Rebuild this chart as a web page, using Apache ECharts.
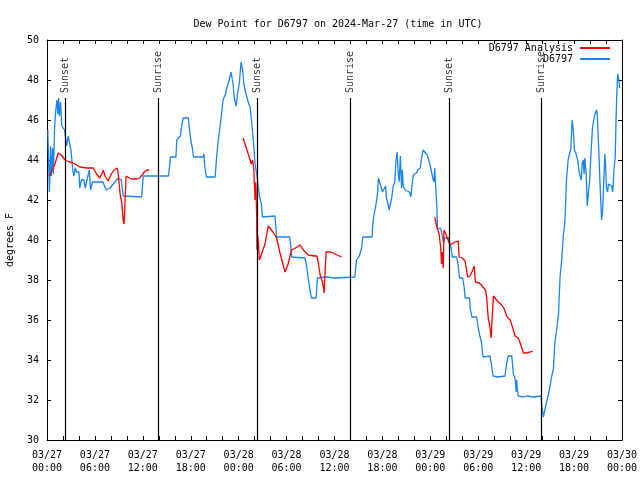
<!DOCTYPE html>
<html>
<head>
<meta charset="utf-8">
<script src="https://cdn.jsdelivr.net/npm/echarts@6/dist/echarts.min.js"></script>
<style>html,body{margin:0;padding:0;background:#fff}#c{width:640px;height:480px}</style>
</head>
<body>
<div id="c"></div>
<script>
// hours since 2024-03-27 00:00 UTC, dew point (F)
const stationSeries = [
[0.1,45.5],[0.3,42.4],[0.45,44.7],[0.55,43.2],[0.7,44.6],[0.8,43.3],[0.95,45.6],[1.1,46.5],[1.25,47.0],[1.35,46.3],[1.45,47.1],[1.55,46.2],[1.7,46.9],[1.85,45.7],[2.2,45.5],[2.45,44.7],[2.65,45.2],[2.9,45.3],[3.0,44.5],[3.2,43.6],[3.35,43.2],[3.55,43.6],[3.7,43.4],[4.0,43.4],[4.1,42.6],[4.3,43.0],[4.6,43.0],[4.8,42.6],[5.0,43.0],[5.3,43.5],[5.45,42.5],[5.7,42.9],[7.0,42.9],[7.4,42.5],[7.9,42.6],[8.5,42.9],[8.9,43.1],[9.3,43.0],[9.55,42.2],[11.85,42.15],[12.05,43.2],
[15.2,43.2],[15.3,43.5],[15.45,44.15],[16.15,44.15],[16.25,45.0],[16.7,45.2],[16.9,45.8],[17.05,46.1],[17.7,46.1],[17.85,45.5],[18.0,45.0],[18.2,44.6],[18.35,44.15],[19.55,44.15],[19.65,44.3],[19.75,43.7],[19.95,43.15],[21.05,43.15],[21.25,44.2],[21.45,45.0],[21.65,45.6],[21.85,46.3],[22.05,47.0],[22.35,47.3],[22.5,47.6],[22.75,47.9],[23.05,48.4],[23.15,48.5],[23.3,47.8],[23.45,47.1],[23.7,46.7],[23.85,47.3],[24.1,47.9],[24.3,48.9],[24.5,48.5],[24.65,47.8],[24.85,47.4],[25.2,46.9],[25.45,46.6],[25.6,46.0],[25.85,44.9],[26.05,43.8],[26.15,43.9],[26.3,43.2],[26.5,43.25],[26.6,42.2],[26.75,42.1],[26.85,41.8],[26.97,41.15],[28.55,41.2],[28.75,40.15],[30.4,40.15],[30.55,39.6],[30.65,39.15],[32.3,39.1],[32.5,38.7],[32.7,38.1],[32.95,38.0],[33.1,37.1],[33.7,37.1],[33.85,38.1],[35.0,38.15],[36.0,38.1],[38.55,38.15],[38.75,39.0],[39.1,39.2],[39.4,39.6],[39.55,40.15],[40.7,40.15],[40.8,40.8],[40.9,41.15],[41.15,41.15],[41.25,41.9],[41.4,42.4],[41.5,43.1],[41.7,43.15],[41.8,42.7],[42.0,42.4],[42.2,42.55],[42.4,42.7],[42.5,42.1],[42.7,41.8],[42.85,41.5],[43.05,41.5],[43.2,42.2],[43.35,42.7],[43.55,42.9],[43.7,44.0],[43.85,44.4],[43.95,43.5],[44.1,42.9],[44.25,44.2],[44.4,42.6],[44.5,43.5],[44.6,42.7],[44.85,42.5],[45.4,42.4],[45.55,42.15],[45.65,42.5],[45.8,43.1],[45.95,43.3],[46.3,43.35],[46.4,43.5],[46.75,43.6],[46.9,44.1],[47.1,44.5],[47.35,44.4],[47.6,44.25],[47.8,44.0],[48.0,43.7],[48.3,43.1],[48.45,42.9],[48.55,43.6],[48.65,42.8],[48.8,41.8],[48.9,40.55],[49.3,40.6],[49.55,40.5],[49.65,39.85],[49.8,40.1],[50.3,40.1],[50.6,39.6],[50.75,39.15],[51.3,39.15],[51.5,38.7],[51.65,38.1],[52.05,38.1],[52.25,37.6],[52.35,37.1],[52.9,37.1],[53.0,36.6],[53.2,36.15],[53.8,36.15],[54.0,35.6],[54.2,35.2],[54.4,34.9],[54.6,34.15],[55.45,34.2],[55.65,33.8],[55.85,33.2],[56.5,33.15],[57.35,33.2],[57.55,33.8],[57.75,34.2],[58.2,34.2],[58.4,33.3],[58.6,33.1],[58.75,32.4],[58.8,33.0],[58.9,32.5],[59.0,32.2],[59.7,32.15],[60.1,32.2],[60.9,32.15],[61.85,32.2],[62.0,31.6],[62.15,31.15],[62.4,31.15],[62.5,31.8],[62.75,32.2],[62.95,32.6],[63.2,33.2],[63.4,33.5],[63.6,34.9],[63.85,35.6],[64.05,36.3],[64.25,38.2],[64.45,39.0],[64.65,40.2],[64.85,40.9],[65.05,43.0],[65.25,44.0],[65.45,44.1],[65.6,44.6],[65.75,46.0],[65.9,45.5],[66.05,44.5],[66.25,44.3],[66.45,44.0],[66.6,43.5],[66.75,43.2],[66.9,43.0],[67.0,43.8],[67.15,44.0],[67.25,43.3],[67.35,44.1],[67.5,43.4],[67.65,41.7],[67.8,42.4],[67.95,43.0],[68.1,44.2],[68.3,45.6],[68.55,46.2],[68.8,46.5],[68.9,46.3],[69.1,44.4],[69.3,42.3],[69.45,41.0],[69.6,41.7],[69.75,43.3],[69.85,44.3],[69.95,43.7],[70.05,42.6],[70.2,42.4],[70.3,42.8],[70.5,42.9],[70.7,42.7],[70.85,42.4],[71.0,43.6],[71.15,44.1],[71.25,46.0],[71.35,47.3],[71.45,48.3],[71.6,48.0],[71.7,47.6]
];
const analysisDay1 = [
[0.3,43.2],[0.5,43.15],[1.0,43.8],[1.4,44.35],[1.8,44.25],[2.25,44.0],[2.8,43.9],[3.3,43.85],[3.7,43.75],[4.1,43.65],[5.0,43.6],[5.8,43.6],[6.2,43.3],[6.6,43.1],[6.85,43.3],[7.05,43.5],[7.25,43.2],[7.65,42.95],[8.05,43.3],[8.4,43.5],[8.8,43.6],[8.95,43.2],[9.15,42.3],[9.35,41.9],[9.55,40.95],[9.65,40.8],[9.75,41.7],[9.9,43.2],[10.3,43.1],[10.6,43.05],[11.2,43.05],[11.6,43.1],[11.8,43.2],[12.2,43.4],[12.5,43.5],[12.8,43.5]
];
const analysisDay2 = [
[24.55,45.1],[24.75,45.1],[25.2,44.3],[25.6,43.8],[25.75,44.0],[25.9,43.5],[26.05,42.0],[26.15,42.9],[26.25,41.2],[26.3,39.5],[26.4,40.2],[26.6,39.0],[26.8,39.05],[27.3,39.8],[27.7,40.7],[27.9,40.65],[28.3,40.4],[28.75,40.1],[29.2,39.3],[29.6,38.7],[29.8,38.4],[30.2,38.8],[30.6,39.5],[31.1,39.6],[31.7,39.75],[32.1,39.5],[32.7,39.25],[33.5,39.2],[33.8,39.2],[34.0,38.8],[34.2,38.25],[34.5,37.9],[34.7,37.35],[34.8,38.2],[34.95,39.4],[35.5,39.4],[35.85,39.35],[36.3,39.25],[36.9,39.15]
];
const analysisDay3 = [
[48.55,41.15],[48.75,41.15],[48.85,40.6],[48.95,40.7],[49.1,40.3],[49.3,39.6],[49.4,38.8],[49.5,39.4],[49.63,38.6],[49.7,40.5],[49.85,40.5],[49.95,40.3],[50.15,40.2],[50.45,39.75],[50.65,39.85],[51.1,39.9],[51.5,39.95],[51.6,39.15],[51.75,39.2],[52.0,39.1],[52.35,38.95],[52.55,38.9],[52.68,38.15],[52.95,38.2],[53.2,38.4],[53.5,38.7],[53.65,37.9],[53.8,38.0],[54.1,37.85],[54.4,37.75],[54.65,37.65],[54.9,37.5],[55.05,37.15],[55.15,36.6],[55.25,36.1],[55.4,35.8],[55.55,35.35],[55.62,35.1],[55.7,35.8],[55.9,37.2],[56.1,37.1],[56.5,36.9],[56.95,36.75],[57.2,36.6],[57.4,36.4],[57.6,36.15],[58.0,36.0],[58.4,35.5],[58.6,35.2],[59.0,35.1],[59.25,34.85],[59.45,34.6],[59.65,34.35],[60.0,34.35],[60.5,34.4],[60.85,34.45]
];
const sunHours = [2.25, 13.94, 26.32, 37.96, 50.36, 61.88];
const sunNames = ['Sunset','Sunrise','Sunset','Sunrise','Sunset','Sunrise'];
const sunLineTop = 47.1;
const xTicks = {min: 0, max: 72, interval: 2, labelEvery: 6};
const yTicks = {min: 30, max: 50, interval: 2};
const titleText = 'Dew Point for D6797 on 2024-Mar-27 (time in UTC)';
const seriesNames = ['D6797 Analysis', 'D6797'];

const FONT = 'DejaVu Sans Mono';
const brk = (a, b) => a.concat([[ (a[a.length-1][0]+b[0][0])/2, '-' ]], b);
const analysisData = brk(brk(analysisDay1, analysisDay2), analysisDay3);

function xLabel(v) {
  if (v % xTicks.labelEvery !== 0) return '';
  const day = 27 + Math.floor(v / 24);
  const hr = v % 24;
  return '03/' + day + '\n' + (hr < 10 ? '0' : '') + hr + ':00';
}

const chart = echarts.init(document.getElementById('c'), null, {renderer: 'canvas'});
const axisCommon = {
  axisLine: {show: true, onZero: false, lineStyle: {color: '#000', width: 1}},
  axisTick: {show: true, inside: true, length: 4, lineStyle: {color: '#000'}},
  splitLine: {show: false}
};
chart.setOption({
  animation: false,
  backgroundColor: '#fff',
  textStyle: {fontFamily: FONT},
  title: {text: titleText, left: 333, textAlign: 'center', top: 14,
    textStyle: {fontFamily: FONT, fontSize: 10, fontWeight: 'normal', color: '#000'}},
  grid: {left: 47, right: 18, top: 40, bottom: 40, containLabel: false, outerBoundsMode: 'none'},
  legend: {
    data: seriesNames, right: 30, top: 43, orient: 'vertical', align: 'right',
    padding: 0, itemGap: 1, itemWidth: 30, itemHeight: 2, icon: 'rect',
    textStyle: {fontFamily: FONT, fontSize: 10, color: '#000', padding: [0, 2, 0, 0]}
  },
  xAxis: [
    Object.assign({type: 'value', min: xTicks.min, max: xTicks.max, interval: xTicks.interval, position: 'bottom',
      axisLabel: {formatter: xLabel, fontFamily: FONT, fontSize: 10, color: '#000', margin: 9, lineHeight: 13,
        showMinLabel: true, showMaxLabel: true, hideOverlap: false}}, axisCommon),
    Object.assign({type: 'value', min: xTicks.min, max: xTicks.max, interval: xTicks.interval, position: 'top',
      axisLabel: {show: false}}, axisCommon)
  ],
  yAxis: [
    Object.assign({type: 'value', min: yTicks.min, max: yTicks.max, interval: yTicks.interval, position: 'left',
      name: 'degrees F', nameLocation: 'middle', nameGap: 32, nameRotate: 90,
      nameTextStyle: {fontFamily: FONT, fontSize: 10, color: '#000'},
      axisLabel: {fontFamily: FONT, fontSize: 10, color: '#000', margin: 8}}, axisCommon),
    Object.assign({type: 'value', min: yTicks.min, max: yTicks.max, interval: yTicks.interval, position: 'right',
      axisLabel: {show: false}}, axisCommon)
  ],
  series: [
    {name: seriesNames[0], type: 'line', data: analysisData, showSymbol: false, connectNulls: false,
      lineStyle: {color: '#ff0000', width: 1.3}, itemStyle: {color: '#ff0000'}, z: 4},
    {name: seriesNames[1], type: 'line', data: stationSeries, showSymbol: false,
      lineStyle: {color: '#1a84ee', width: 1.3}, itemStyle: {color: '#1a84ee'}, z: 3},
    {name: 'sun', type: 'line', data: [], silent: true,
      markLine: {symbol: 'none', silent: true, animation: false,
        lineStyle: {color: '#000', width: 1.2, type: 'solid'}, label: {show: false},
        data: sunHours.map(h => [{coord: [h, yTicks.min]}, {coord: [h, sunLineTop]}])}},
    {name: 'sunlabel', type: 'scatter', symbolSize: 0, silent: true,
      data: sunHours.map((h, i) => ({value: [h, sunLineTop + 0.25], name: sunNames[i]})),
      label: {show: true, formatter: p => p.name, position: [0, 0], rotate: 90, align: 'left', verticalAlign: 'middle',
        fontFamily: FONT, fontSize: 10, color: '#000'}, z: 5}
  ]
});
</script>
</body>
</html>
